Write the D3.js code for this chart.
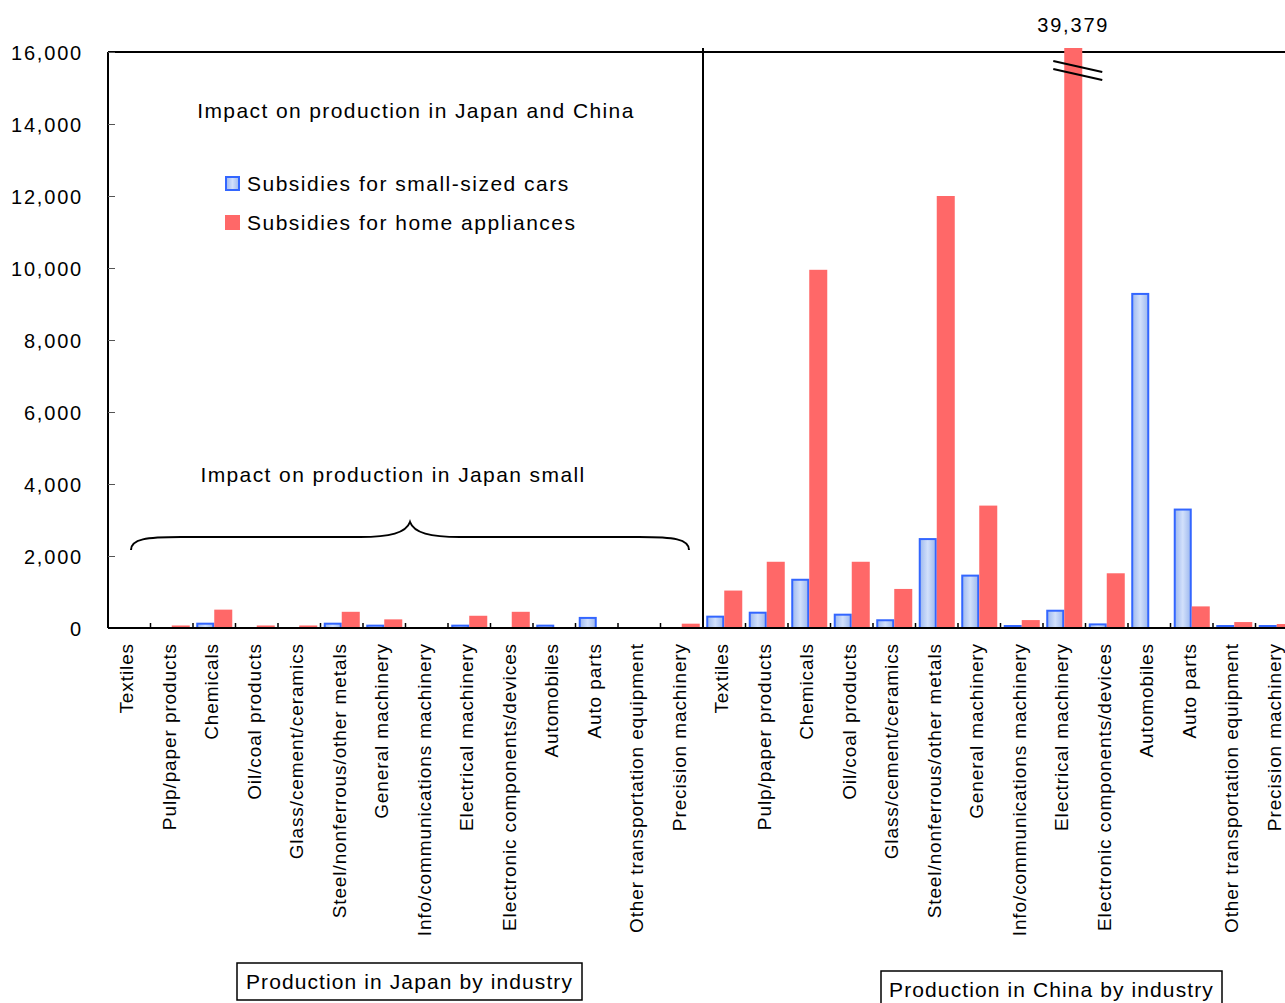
<!DOCTYPE html>
<html>
<head>
<meta charset="utf-8">
<title>Impact on production</title>
<script src="https://d3js.org/d3.v7.min.js"></script>
<style>
  body { margin: 0; background: #fff; }
  svg { display: block; font-family: "Liberation Sans", Arial, sans-serif; }
  .tick text { font-size: 20px; fill: #000; letter-spacing: 1.8px; }
</style>
</head>
<body>
<div id="chart"></div>
<script>
// industries (same list for Japan and China)
var industries = ["Textiles", "Pulp/paper products", "Chemicals", "Oil/coal products",
  "Glass/cement/ceramics", "Steel/nonferrous/other metals", "General machinery",
  "Info/communications machinery", "Electrical machinery", "Electronic components/devices",
  "Automobiles", "Auto parts", "Other transportation equipment", "Precision machinery"];

var seriesNames = ["Subsidies for small-sized cars", "Subsidies for home appliances"];

var japanCars = [0, 0, 120, 0, 0, 120, 65, 0, 65, 0, 65, 280, 0, 0];
var japanAppliances = [0, 70, 510, 70, 70, 450, 240, 0, 340, 450, 0, 0, 0, 120];
var chinaCars = [315, 425, 1340, 370, 215, 2470, 1455, 55, 480, 100, 9280, 3290, 55, 55];
var chinaAppliances = [1040, 1840, 9950, 1840, 1085, 12000, 3400, 220, 39379, 1520, 0, 600, 165, 110];

var yTicks = [0, 2000, 4000, 6000, 8000, 10000, 12000, 14000, 16000];
var yMax = 16000;

var W = 1285, H = 1003;
var plotLeft = 108, plotTop = 52, plotBottom = 628;
var step = 42.5;

var rows = [];
industries.forEach(function(d, i) {
  rows.push({key: "J" + i, name: d, values: [japanCars[i], japanAppliances[i]]});
});
industries.forEach(function(d, i) {
  rows.push({key: "C" + i, name: d, values: [chinaCars[i], chinaAppliances[i]]});
});

var svg = d3.select("#chart").append("svg").attr("width", W).attr("height", H);

var defs = svg.append("defs");
var grad = defs.append("linearGradient").attr("id", "blueGrad")
  .attr("x1", "0%").attr("x2", "100%").attr("y1", "0%").attr("y2", "0%");
grad.append("stop").attr("offset", "0%").attr("stop-color", "#9db8ee");
grad.append("stop").attr("offset", "50%").attr("stop-color", "#d2e0fb");
grad.append("stop").attr("offset", "100%").attr("stop-color", "#9db8ee");

var x0 = d3.scaleBand().domain(rows.map(function(d) { return d.key; }))
  .range([plotLeft, plotLeft + step * rows.length]).paddingInner(0).paddingOuter(0);
var x1 = d3.scaleBand().domain([0, 1]).range([0, x0.bandwidth()]).paddingInner(0).paddingOuter(0.18);
var y = d3.scaleLinear().domain([0, yMax]).range([plotBottom, plotTop]);

// frame
svg.append("line").attr("x1", plotLeft).attr("x2", W).attr("y1", plotTop).attr("y2", plotTop)
  .attr("stroke", "#000").attr("stroke-width", 2);

// bars
var groups = svg.append("g").selectAll("g").data(rows).enter().append("g")
  .attr("transform", function(d) { return "translate(" + x0(d.key) + ",0)"; });

groups.selectAll("rect").data(function(d) { return d.values.map(function(v, j) { return {v: v, j: j}; }); })
  .enter().filter(function(d) { return d.v > 0; }).append("rect")
  .attr("x", function(d) { return x1(d.j) + (d.j === 0 ? 1 : 0); })
  .attr("width", function(d) { return x1.bandwidth() - (d.j === 0 ? 2 : 0); })
  .attr("y", function(d) { return d.v > yMax ? plotTop - 4 : y(d.v); })
  .attr("height", function(d) { return d.v > yMax ? plotBottom - plotTop + 4 : plotBottom - y(d.v); })
  .attr("fill", function(d) { return d.j === 0 ? "url(#blueGrad)" : "#ff6868"; })
  .attr("stroke", function(d) { return d.j === 0 ? "#3366ff" : "none"; })
  .attr("stroke-width", 2);

// broken bar marker and its value
var brokenRow = rows.filter(function(d) { return d.values[1] > yMax; })[0];
var bx = x0(brokenRow.key) + x1(1) + x1.bandwidth() / 2;
[0, 8].forEach(function(off) {
  svg.append("line").attr("x1", bx - 20).attr("x2", bx + 29)
    .attr("y1", y(yMax) + 9 + off).attr("y2", y(yMax) + 20 + off)
    .attr("stroke", "#000").attr("stroke-width", 2);
});
svg.append("text").attr("x", bx).attr("y", 32).attr("text-anchor", "middle")
  .style("font-size", "20px").style("letter-spacing", "1.8px").text(d3.format(",")(brokenRow.values[1]));

// y axis
var yAxis = svg.append("g").attr("transform", "translate(" + plotLeft + ",0)")
  .call(d3.axisLeft(y).tickValues(yTicks).tickSize(-7).tickPadding(25).tickFormat(d3.format(",")));
yAxis.select(".domain").attr("stroke-width", 2).attr("d", "M0," + plotTop + "V" + plotBottom);
yAxis.selectAll(".tick line").attr("stroke", "#555");
yAxis.selectAll(".tick text").attr("dy", "0.36em");

// x axis: boundary ticks and labels
var xAxisG = svg.append("g");
xAxisG.append("line").attr("x1", plotLeft).attr("x2", W).attr("y1", plotBottom).attr("y2", plotBottom)
  .attr("stroke", "#000").attr("stroke-width", 2);
xAxisG.selectAll(".bt").data(rows.slice(1)).enter().append("line")
  .attr("x1", function(d) { return x0(d.key); }).attr("x2", function(d) { return x0(d.key); })
  .attr("y1", plotBottom - 5).attr("y2", plotBottom).attr("stroke", "#000").attr("stroke-width", 1.5);
xAxisG.selectAll(".lab").data(rows).enter().append("text")
  .attr("transform", function(d) {
    return "translate(" + (x0(d.key) + x0.bandwidth() / 2 + 4) + "," + (plotBottom + 15) + ") rotate(-90)";
  })
  .attr("text-anchor", "end").style("font-size", "19px").style("letter-spacing", "0.9px")
  .text(function(d) { return d.name; });

// divider between Japan and China
var divX = x0("C0");
svg.append("line").attr("x1", divX).attr("x2", divX).attr("y1", plotTop - 4).attr("y2", plotBottom)
  .attr("stroke", "#000").attr("stroke-width", 2);

// annotations
svg.append("text").attr("x", 416).attr("y", 118).attr("text-anchor", "middle")
  .style("font-size", "21px").style("letter-spacing", "1.4px").text("Impact on production in Japan and China");

var legend = svg.append("g").selectAll("g").data(seriesNames).enter().append("g")
  .attr("transform", function(d, i) { return "translate(225," + (176 + i * 39) + ")"; });
legend.append("rect").attr("x", function(d, i) { return i === 0 ? 1 : 0; })
  .attr("y", function(d, i) { return i === 0 ? 1 : 0; })
  .attr("width", function(d, i) { return i === 0 ? 13 : 15; })
  .attr("height", function(d, i) { return i === 0 ? 13 : 15; })
  .attr("fill", function(d, i) { return i === 0 ? "url(#blueGrad)" : "#ff6868"; })
  .attr("stroke", function(d, i) { return i === 0 ? "#3366ff" : "none"; }).attr("stroke-width", 2);
legend.append("text").attr("x", 22).attr("y", 15).style("font-size", "21px")
  .style("letter-spacing", "1.5px").text(function(d) { return d; });

svg.append("text").attr("x", 393).attr("y", 482).attr("text-anchor", "middle")
  .style("font-size", "21px").style("letter-spacing", "1.4px").text("Impact on production in Japan small");

// curly brace under the note
var bL = 131, bR = 689, bTip = 410, bTop = 522, bMid = 537, bEnd = 550;
svg.append("path")
  .attr("d", "M" + bL + "," + bEnd + " C" + bL + "," + (bMid + 2) + " " + (bL + 15) + "," + bMid + " " + (bL + 50) + "," + bMid +
    " L" + (bTip - 50) + "," + bMid + " C" + (bTip - 20) + "," + bMid + " " + (bTip - 4) + "," + (bMid - 4) + " " + bTip + "," + bTop +
    " C" + (bTip + 4) + "," + (bMid - 4) + " " + (bTip + 20) + "," + bMid + " " + (bTip + 50) + "," + bMid +
    " L" + (bR - 50) + "," + bMid + " C" + (bR - 15) + "," + bMid + " " + bR + "," + (bMid + 2) + " " + bR + "," + bEnd)
  .attr("fill", "none").attr("stroke", "#000").attr("stroke-width", 2);

// region boxes
var boxes = [
  {label: "Production in Japan by industry", x: 237, y: 963, w: 345, h: 37},
  {label: "Production in China by industry", x: 881, y: 971, w: 341, h: 33}
];
var bg = svg.append("g").selectAll("g").data(boxes).enter().append("g");
bg.append("rect").attr("x", function(d) { return d.x; }).attr("y", function(d) { return d.y; })
  .attr("width", function(d) { return d.w; }).attr("height", function(d) { return d.h; })
  .attr("fill", "#fff").attr("stroke", "#000").attr("stroke-width", 1.5);
bg.append("text").attr("x", function(d) { return d.x + d.w / 2; }).attr("y", function(d) { return d.y + 26; })
  .attr("text-anchor", "middle").style("font-size", "21px").style("letter-spacing", "1.1px")
  .text(function(d) { return d.label; });
</script>
</body>
</html>
